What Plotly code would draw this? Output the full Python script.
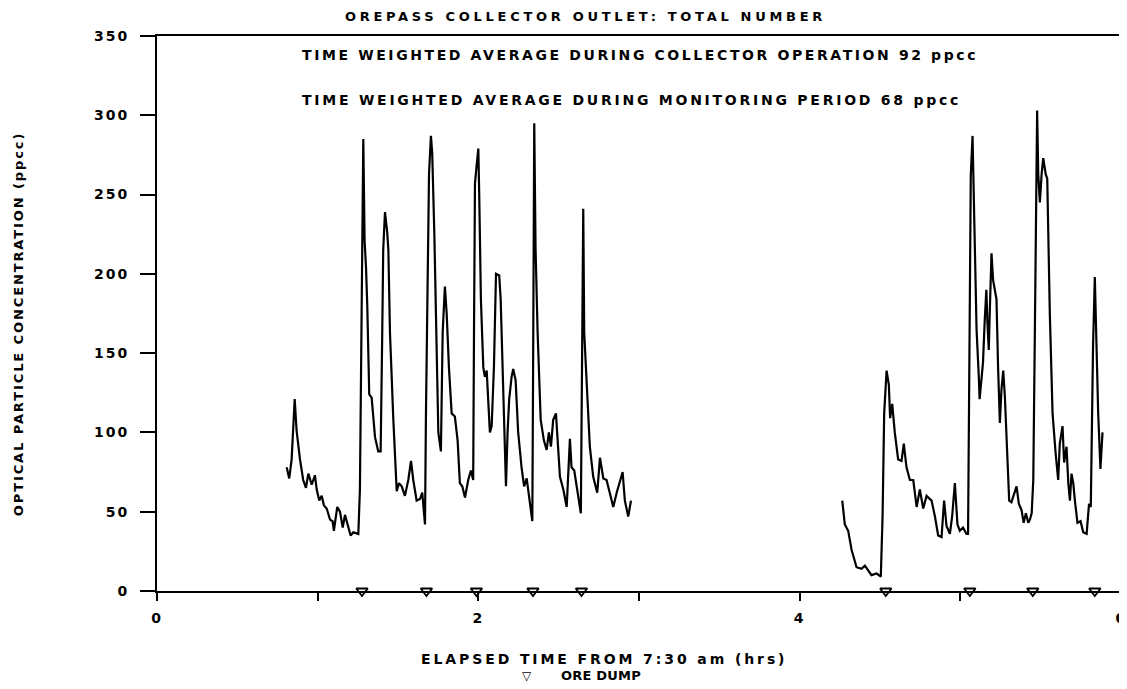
import plotly.graph_objects as go

# ---- data ----
time_period1 = [0.807, 0.823, 0.838, 0.853, 0.857, 0.869, 0.890, 0.910, 0.927, 0.942, 0.963, 0.983,
                0.994, 1.010, 1.025, 1.039, 1.056, 1.077, 1.093, 1.101, 1.122, 1.139, 1.156, 1.170,
                1.191, 1.205, 1.222, 1.253, 1.263, 1.274, 1.280, 1.284, 1.292, 1.301, 1.309, 1.321,
                1.336, 1.357, 1.377, 1.392, 1.402, 1.408, 1.419, 1.433, 1.440, 1.450, 1.471, 1.492,
                1.506, 1.523, 1.543, 1.564, 1.581, 1.595, 1.616, 1.637, 1.651, 1.668, 1.674, 1.685,
                1.693, 1.705, 1.713, 1.726, 1.740, 1.751, 1.767, 1.778, 1.792, 1.803, 1.817, 1.834,
                1.854, 1.871, 1.885, 1.900, 1.917, 1.937, 1.954, 1.968, 1.973, 1.979, 1.989, 2.000,
                2.006, 2.016, 2.031, 2.041, 2.052, 2.062, 2.072, 2.083, 2.097, 2.110, 2.130, 2.139,
                2.151, 2.161, 2.172, 2.182, 2.192, 2.207, 2.217, 2.232, 2.248, 2.269, 2.285, 2.301,
                2.311, 2.321, 2.336, 2.342, 2.348, 2.356, 2.369, 2.388, 2.408, 2.425, 2.439, 2.452,
                2.466, 2.483, 2.497, 2.508, 2.529, 2.550, 2.570, 2.580, 2.597, 2.618, 2.638, 2.647,
                2.653, 2.659, 2.674, 2.694, 2.715, 2.740, 2.757, 2.778, 2.798, 2.819, 2.840, 2.861,
                2.881, 2.898, 2.912, 2.933, 2.950]
conc_period1 = [78, 71, 83, 114, 121, 101, 83, 70, 65, 74, 67, 73,
                64, 57, 60, 54, 52, 45, 44, 38, 53, 50, 40, 48,
                40, 35, 37, 36, 64, 162, 215, 285, 221, 204, 179, 124,
                122, 97, 88, 88, 163, 215, 239, 226, 215, 163, 108, 63,
                68, 66, 60, 70, 82, 70, 57, 58, 62, 42, 112, 205,
                263, 287, 276, 226, 163, 100, 88, 163, 192, 175, 141, 112,
                110, 95, 68, 66, 59, 70, 76, 70, 163, 257, 268, 279,
                247, 184, 141, 135, 139, 121, 100, 104, 141, 200, 199, 184,
                141, 100, 66, 100, 121, 135, 140, 133, 100, 78, 66, 71,
                64, 57, 44, 163, 295, 217, 163, 108, 95, 89, 100, 91,
                108, 112, 89, 72, 64, 53, 96, 78, 76, 62, 49, 163,
                241, 163, 131, 91, 72, 62, 84, 71, 70, 62, 53, 62,
                70, 75, 57, 47, 57]

time_period2 = [4.265, 4.281, 4.302, 4.323, 4.354, 4.385, 4.406, 4.426, 4.447, 4.479, 4.505, 4.516,
                4.526, 4.541, 4.555, 4.563, 4.576, 4.592, 4.613, 4.634, 4.648, 4.665, 4.686, 4.707,
                4.728, 4.748, 4.769, 4.790, 4.821, 4.842, 4.862, 4.883, 4.899, 4.914, 4.935, 4.949,
                4.966, 4.982, 4.997, 5.017, 5.038, 5.048, 5.055, 5.065, 5.076, 5.086, 5.095, 5.101,
                5.115, 5.120, 5.131, 5.141, 5.152, 5.162, 5.168, 5.177, 5.183, 5.194, 5.204, 5.225,
                5.235, 5.246, 5.256, 5.267, 5.277, 5.288, 5.304, 5.318, 5.335, 5.350, 5.364, 5.381,
                5.394, 5.408, 5.423, 5.433, 5.444, 5.454, 5.464, 5.473, 5.478, 5.485, 5.495, 5.506,
                5.516, 5.531, 5.541, 5.557, 5.574, 5.593, 5.609, 5.619, 5.636, 5.646, 5.661, 5.672,
                5.682, 5.692, 5.703, 5.713, 5.729, 5.748, 5.765, 5.786, 5.801, 5.812, 5.826, 5.837,
                5.848, 5.858, 5.872, 5.885]
conc_period2 = [57, 42, 38, 26, 15, 14, 16, 13, 10, 11, 9, 47,
                112, 139, 130, 109, 118, 100, 83, 82, 93, 78, 70, 70,
                53, 64, 52, 60, 57, 47, 35, 34, 57, 41, 36, 47,
                68, 42, 38, 40, 36, 36, 163, 262, 287, 238, 200, 165,
                135, 121, 133, 144, 171, 190, 171, 152, 175, 213, 196, 184,
                141, 106, 127, 139, 123, 91, 57, 56, 62, 66, 55, 51,
                43, 49, 43, 45, 49, 70, 165, 249, 303, 263, 245, 263,
                273, 263, 260, 175, 112, 87, 70, 93, 104, 81, 91, 68,
                57, 74, 68, 57, 43, 44, 37, 36, 55, 53, 154, 198,
                146, 112, 77, 100]

ore_dump_times = [1.276, 1.677, 1.988, 2.340, 2.642, 4.536, 5.059, 5.451, 5.837]

x_tick_vals = [0, 1, 2, 3, 4, 5, 6]
x_tick_text = ["0", "", "2", "", "4", "", "6"]
y_tick_vals = [0, 50, 100, 150, 200, 250, 300, 350]

FONT = "DejaVu Sans"


def spaced(text, px):
    return f'<span style="letter-spacing:{px}px">{text}</span>'


fig = go.Figure()
line_style = dict(color="black", width=2.2)
fig.add_trace(go.Scatter(x=time_period1, y=conc_period1, mode="lines", line=line_style,
                         showlegend=False, hoverinfo="skip"))
fig.add_trace(go.Scatter(x=time_period2, y=conc_period2, mode="lines", line=line_style,
                         showlegend=False, hoverinfo="skip"))
fig.add_trace(go.Scatter(x=ore_dump_times, y=[0] * len(ore_dump_times), mode="markers",
                         marker=dict(symbol="triangle-down-open", size=10, color="black",
                                     line=dict(width=1.8, color="black")),
                         cliponaxis=False, showlegend=False, hoverinfo="skip"))

tick_font = dict(family=FONT, size=14, color="black", weight="bold")
fig.update_xaxes(range=[0, 6], tickvals=x_tick_vals,
                 ticktext=[spaced(t, 2) if t else "" for t in x_tick_text],
                 ticks="outside", ticklen=8, tickwidth=1.5, tickcolor="black",
                 showline=True, linewidth=2, linecolor="black", mirror=True, automargin=False,
                 showgrid=False, zeroline=False, tickfont=tick_font, ticklabelstandoff=5)
fig.update_yaxes(range=[0, 350], tickvals=y_tick_vals,
                 ticktext=[spaced(str(v), 2) for v in y_tick_vals],
                 ticks="outside", ticklen=15, tickwidth=1.5, tickcolor="black",
                 showline=True, linewidth=2, linecolor="black", mirror=True, automargin=False,
                 showgrid=False, zeroline=False, tickfont=tick_font, ticklabelstandoff=8)

ann_font = dict(family=FONT, size=14, color="black", weight="bold")
annotations = [
    dict(text=spaced("OREPASS COLLECTOR OUTLET: TOTAL NUMBER", 3.7), xref="x", yref="paper",
         x=2.67, y=1.035, xanchor="center", yanchor="middle", showarrow=False,
         font=dict(family=FONT, size=13, color="black", weight="bold")),
    dict(text=spaced("TIME WEIGHTED AVERAGE DURING COLLECTOR OPERATION 92 ppcc", 2.6), xref="x", yref="y",
         x=0.89, y=338, xanchor="left", yanchor="middle", showarrow=False, font=ann_font),
    dict(text=spaced("TIME WEIGHTED AVERAGE DURING MONITORING PERIOD 68 ppcc", 2.75), xref="x", yref="y",
         x=0.89, y=309.5, xanchor="left", yanchor="middle", showarrow=False, font=ann_font),
    dict(text=spaced("OPTICAL PARTICLE CONCENTRATION (ppcc)", 1.9), xref="paper", yref="paper",
         x=-0.144, y=0.481, xanchor="center", yanchor="middle", textangle=-90, showarrow=False,
         font=dict(family=FONT, size=13, color="black", weight="bold")),
    dict(text=spaced("ELAPSED TIME FROM 7:30 am (hrs)", 2.9), xref="x", yref="paper",
         x=2.78, y=-0.1225, xanchor="center", yanchor="middle", showarrow=False,
         font=dict(family=FONT, size=14, color="black", weight="bold")),
    dict(text="▽", xref="x", yref="paper",
         x=2.30, y=-0.153, xanchor="center", yanchor="middle", showarrow=False,
         font=dict(family=FONT, size=12, color="black", weight="bold")),
    dict(text=spaced("ORE DUMP", 0.2), xref="x", yref="paper",
         x=2.766, y=-0.153, xanchor="center", yanchor="middle", showarrow=False,
         font=dict(family=FONT, size=13, color="black", weight="bold")),
]

# the page body adds an 8px margin, so the figure is sized and padded to land on the reference pixels
fig.update_layout(width=1119, height=681, margin=dict(l=149, r=6, t=28, b=98, autoexpand=False),
                  paper_bgcolor="white", plot_bgcolor="white", annotations=annotations,
                  font=dict(family=FONT, color="black"))

fig.write_html("out.html")
